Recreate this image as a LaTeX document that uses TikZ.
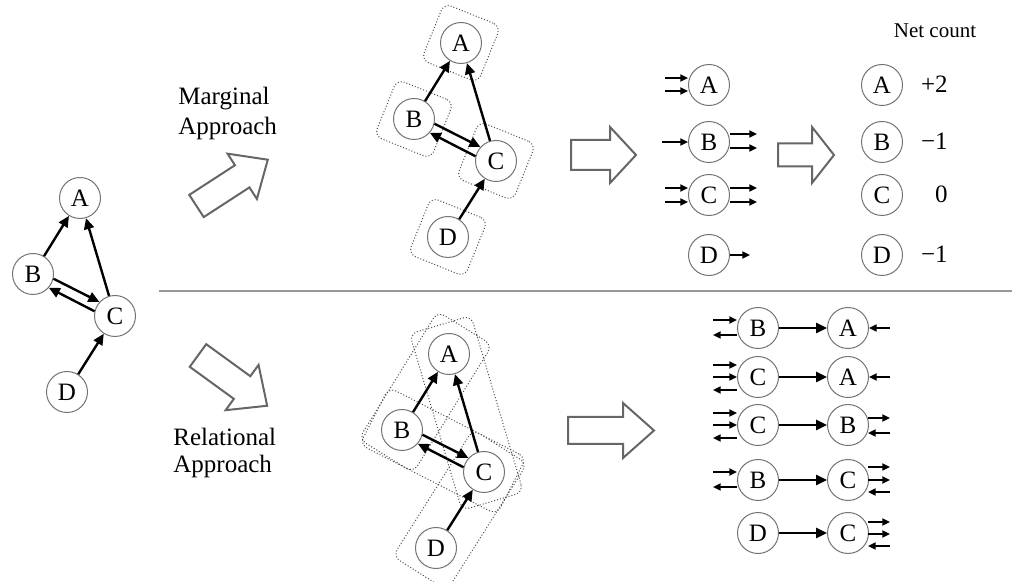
\documentclass[tikz,border=0pt]{standalone}
\usepackage{fontspec}
\setmainfont{Liberation Serif}
\usetikzlibrary{arrows.meta,calc}
\newcommand{\hollowarrow}[7]{%
  \draw[bigarr,shift={(#1,#2)},rotate=#3]
    (0,-#6/2) -- (#4-#5,-#6/2) -- (#4-#5,-#7/2) -- (#4,0) -- (#4-#5,#7/2) -- (#4-#5,#6/2) -- (0,#6/2) -- cycle;}
\newcommand{\gpts}{%
  \coordinate (pA) at (0,0);
  \coordinate (pB) at (-47,76);
  \coordinate (pC) at (35,118);
  \coordinate (pD) at (-13,194);}
\newcommand{\gnodes}{%
  \node[vtx] (A) at (pA) {A};
  \node[vtx] (B) at (pB) {B};
  \node[vtx] (C) at (pC) {C};
  \node[vtx] (D) at (pD) {D};}
\newcommand{\gedges}{%
  \draw[edge] (B) -- (A);
  \draw[edge] (C) -- (A);
  \draw[edge] (B.-13) -- (C.138.8);
  \draw[edge] (C.167) -- (B.-41.2);
  \draw[edge] (D) -- (C);}
\begin{document}
\begin{tikzpicture}[x=0.5pt,y=-0.5pt,
  vtx/.style={circle,draw=black!55,fill=white,line width=0.5pt,minimum size=20.5pt,inner sep=0pt,font=\fontsize{12.5}{14}\selectfont},
  edge/.style={line width=1.2pt,-{Triangle[length=5.5pt,width=5pt]}},
  sarr/.style={line width=0.9pt,-{Triangle[length=3.8pt,width=3.5pt]}},
  dbox/.style={draw=black!70,densely dotted,line width=0.5pt,rounded corners=4pt,inner sep=0pt},
  bigarr/.style={draw=black!60,line width=1pt,fill=white,line join=miter},
  lbl/.style={font=\fontsize{12.5}{15}\selectfont,inner sep=0pt},
  val/.style={font=\fontsize{12.5}{15}\selectfont,inner sep=0pt,anchor=base east},
]
\useasboundingbox (0,0) rectangle (1012,582);

% divider
\draw[black!40,line width=0.6pt] (159,291) -- (1012,291);

% labels
\node[lbl,anchor=base west] (marg1) at (178,105) {Marginal};
\node[lbl,anchor=base west] (marg2) at (178,135) {Approach};
\node[lbl,anchor=base west] (rel1) at (173,445) {Relational};
\node[lbl,anchor=base west] (rel2) at (173,473) {Approach};

% hollow arrows
\hollowarrow{196.5}{206}{33}{85}{30.5}{26.5}{54}
\hollowarrow{198}{355.5}{-36}{85.5}{31}{28}{56}
\hollowarrow{571}{155}{0}{65}{26}{30}{56}
\hollowarrow{568}{430.5}{0}{86}{31}{27}{55}
\hollowarrow{778}{155}{0}{56}{22}{23}{56}

% left graph
\begin{scope}[shift={(80,198)},name prefix=L-]
  \gpts \gnodes \gedges
\end{scope}

% top graph (marginal)
\begin{scope}[shift={(461,43)},name prefix=T-]
  \gpts
  \foreach \n in {A,B,C,D} \node[dbox,rotate=-22,minimum size=30.5pt] (box\n) at (p\n) {};
  \gnodes \gedges
\end{scope}

% bottom graph (relational)
\begin{scope}[shift={(449,354)},name prefix=R-]
  \gpts
  \path (pB) -- (pA) node[dbox,midway,sloped,minimum width=75pt,minimum height=32pt] (boxBA) {};
  \path (pC) -- (pA) node[dbox,midway,sloped,minimum width=92pt,minimum height=32pt] (boxCA) {};
  \path (pB) -- (pC) node[dbox,midway,sloped,minimum width=77pt,minimum height=32pt] (boxBC) {};
  \path (pD) -- (pC) node[dbox,midway,sloped,minimum width=75pt,minimum height=32pt] (boxDC) {};
  \gnodes \gedges
\end{scope}

% marginal lists
\node[vtx] (mA) at (709,85) {A};
\node[vtx] (mB) at (709,142) {B};
\node[vtx] (mC) at (709,195) {C};
\node[vtx] (mD) at (709,255) {D};
\draw[sarr] ($(mA)+(-44,-7)$) -- ($(mA)+(-21,-7)$);
\draw[sarr] ($(mA)+(-44,6)$) -- ($(mA)+(-21,6)$);
\draw[sarr] ($(mB)+(-47,0)$) -- ($(mB)+(-21,0)$);
\draw[sarr] ($(mB)+(21,-8)$) -- ($(mB)+(48,-8)$);
\draw[sarr] ($(mB)+(21,6)$) -- ($(mB)+(48,6)$);
\draw[sarr] ($(mC)+(-44,-7)$) -- ($(mC)+(-21,-7)$);
\draw[sarr] ($(mC)+(-44,7)$) -- ($(mC)+(-21,7)$);
\draw[sarr] ($(mC)+(21,-7)$) -- ($(mC)+(48,-7)$);
\draw[sarr] ($(mC)+(21,7)$) -- ($(mC)+(48,7)$);
\draw[sarr] ($(mD)+(21,0)$) -- ($(mD)+(41,0)$);

\node[font=\fontsize{10.5}{12}\selectfont,inner sep=0pt,anchor=base] (netc) at (935,38) {Net count};
\node[vtx] (nA) at (882,85) {A};
\node[vtx] (nB) at (882,142) {B};
\node[vtx] (nC) at (882,195) {C};
\node[vtx] (nD) at (882,255) {D};
\node[val] (vA) at (948,93) {+2};
\node[val] (vB) at (948,150) {−1};
\node[val] (vC) at (948,203) {0};
\node[val] (vD) at (948,263) {−1};

% relational lists
\node[vtx] (r1L) at (758,328) {B};
\node[vtx] (r1R) at (848,328) {A};
\node[vtx] (r2L) at (758,377) {C};
\node[vtx] (r2R) at (848,377) {A};
\node[vtx] (r3L) at (758,425) {C};
\node[vtx] (r3R) at (848,425) {B};
\node[vtx] (r4L) at (758,480) {B};
\node[vtx] (r4R) at (848,480) {C};
\node[vtx] (r5L) at (758,533) {D};
\node[vtx] (r5R) at (848,533) {C};
\foreach \i in {1,...,5} \draw[edge] (r\i L) -- (r\i R);

% row 1
\draw[sarr] ($(r1L)+(-45,-8)$) -- ($(r1L)+(-21,-8)$);
\draw[sarr] ($(r1L)+(-21,7)$) -- ($(r1L)+(-45,7)$);
\draw[sarr] ($(r1R)+(42,0)$) -- ($(r1R)+(21,0)$);
% row 2
\draw[sarr] ($(r2L)+(-45,-12)$) -- ($(r2L)+(-21,-12)$);
\draw[sarr] ($(r2L)+(-45,0)$) -- ($(r2L)+(-21,0)$);
\draw[sarr] ($(r2L)+(-21,13)$) -- ($(r2L)+(-45,13)$);
\draw[sarr] ($(r2R)+(42,0)$) -- ($(r2R)+(21,0)$);
% row 3
\draw[sarr] ($(r3L)+(-45,-12)$) -- ($(r3L)+(-21,-12)$);
\draw[sarr] ($(r3L)+(-45,0)$) -- ($(r3L)+(-21,0)$);
\draw[sarr] ($(r3L)+(-21,13)$) -- ($(r3L)+(-45,13)$);
\draw[sarr] ($(r3R)+(20,-7)$) -- ($(r3R)+(42,-7)$);
\draw[sarr] ($(r3R)+(42,8)$) -- ($(r3R)+(20,8)$);
% row 4
\draw[sarr] ($(r4L)+(-45,-8)$) -- ($(r4L)+(-21,-8)$);
\draw[sarr] ($(r4L)+(-21,7)$) -- ($(r4L)+(-45,7)$);
\draw[sarr] ($(r4R)+(20,-13)$) -- ($(r4R)+(42,-13)$);
\draw[sarr] ($(r4R)+(20,0)$) -- ($(r4R)+(42,0)$);
\draw[sarr] ($(r4R)+(42,12)$) -- ($(r4R)+(20,12)$);
% row 5
\draw[sarr] ($(r5R)+(20,-11)$) -- ($(r5R)+(42,-11)$);
\draw[sarr] ($(r5R)+(20,1)$) -- ($(r5R)+(42,1)$);
\draw[sarr] ($(r5R)+(42,13)$) -- ($(r5R)+(20,13)$);
\end{tikzpicture}
\end{document}
